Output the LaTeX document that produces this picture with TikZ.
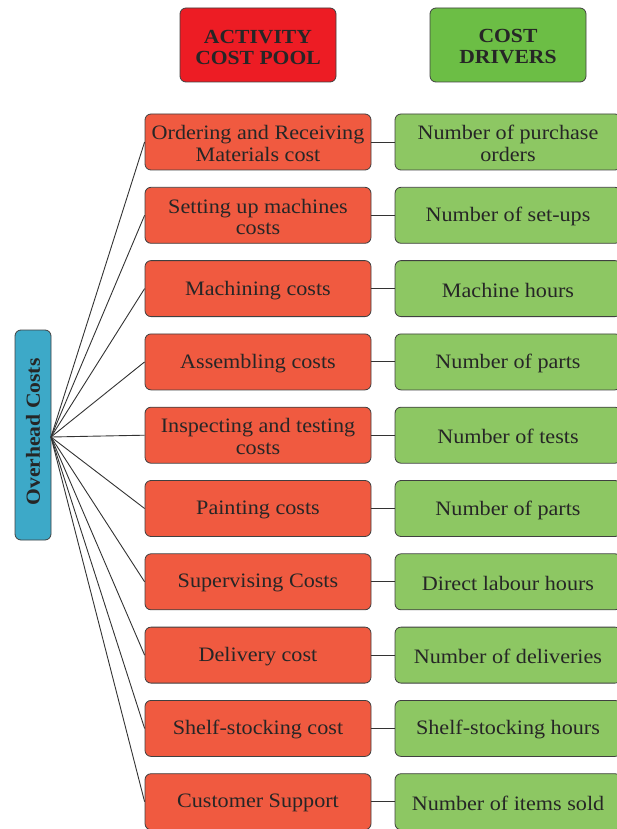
\documentclass[tikz,border=0pt]{standalone}
\usepackage{fontspec}
\setmainfont[FakeStretch=1.08]{Liberation Serif}
\begin{document}
\begin{tikzpicture}[x=1pt,y=-1pt,
  box/.style={draw=black!75, line width=0.8pt, rounded corners=6pt, align=center, text=black!85, font=\fontsize{20.5}{21.5}\selectfont, inner sep=0pt},
  pool/.style={box, fill=poolc, minimum width=226pt, minimum height=56pt},
  drv/.style={box, fill=drvc, minimum width=226pt, minimum height=56pt},
  hdr/.style={box, minimum width=156pt, minimum height=74pt, font=\bfseries\fontsize{20}{21}\selectfont},
  lbl/.style={align=center, text=black!85, font=\fontsize{20.5}{21.5}\selectfont, inner sep=0pt},
  conn/.style={draw=black!80, line width=0.9pt}]
\definecolor{poolc}{HTML}{F05A40}
\definecolor{drvc}{HTML}{8DC763}
\definecolor{hredc}{HTML}{ED1C24}
\definecolor{hgrnc}{HTML}{6CBE45}
\definecolor{bluec}{HTML}{3DA9C8}
\useasboundingbox (0,0) rectangle (617,829);
\begin{scope}
\clip (0,0) rectangle (617,829);
\node[hdr, fill=hredc] (h1) at (258,45) {};
\node[lbl, font=\bfseries\fontsize{20}{21}\selectfont] (h1t) at (258,47) {ACTIVITY\\COST POOL};
\node[hdr, fill=hgrnc] (h2) at (508,45) {};
\node[lbl, font=\bfseries\fontsize{20}{21}\selectfont] (h2t) at (508,47) {COST\\DRIVERS};
\node[box, fill=bluec, minimum width=36pt, minimum height=210pt] (oh) at (33,435) {};
\node[rotate=90, font=\bfseries\fontsize{20}{20}\selectfont, text=black!85] (ohl) at (33,432) {Overhead Costs};
\coordinate (hub) at (51,437);
\foreach \i/\a/\b in {
 0/{Ordering and Receiving\\Materials cost}/{Number of purchase\\orders},
 1/{Setting up machines\\costs}/{Number of set-ups},
 2/{Machining costs}/{Machine hours},
 3/{Assembling costs}/{Number of parts},
 4/{Inspecting and testing\\costs}/{Number of tests},
 5/{Painting costs}/{Number of parts},
 6/{Supervising Costs}/{Direct labour hours},
 7/{Delivery cost}/{Number of deliveries},
 8/{Shelf-stocking cost}/{Shelf-stocking hours},
 9/{Customer Support}/{Number of items sold}} {
  \pgfmathsetmacro{\yy}{142+73.3*\i}
  \pgfmathsetmacro{\ty}{\yy+1.5}
  \node[pool] (p\i) at (258,\yy) {};
  \node[lbl] (pt\i) at (258,\ty) {\a};
  \node[drv] (d\i) at (508,\yy) {};
  \node[lbl] (dt\i) at (508,\ty) {\b};
  \draw[conn] (p\i.east) -- (d\i.west);
  \draw[conn] (hub) -- (p\i.west);
}
\end{scope}
\end{tikzpicture}
\end{document}
